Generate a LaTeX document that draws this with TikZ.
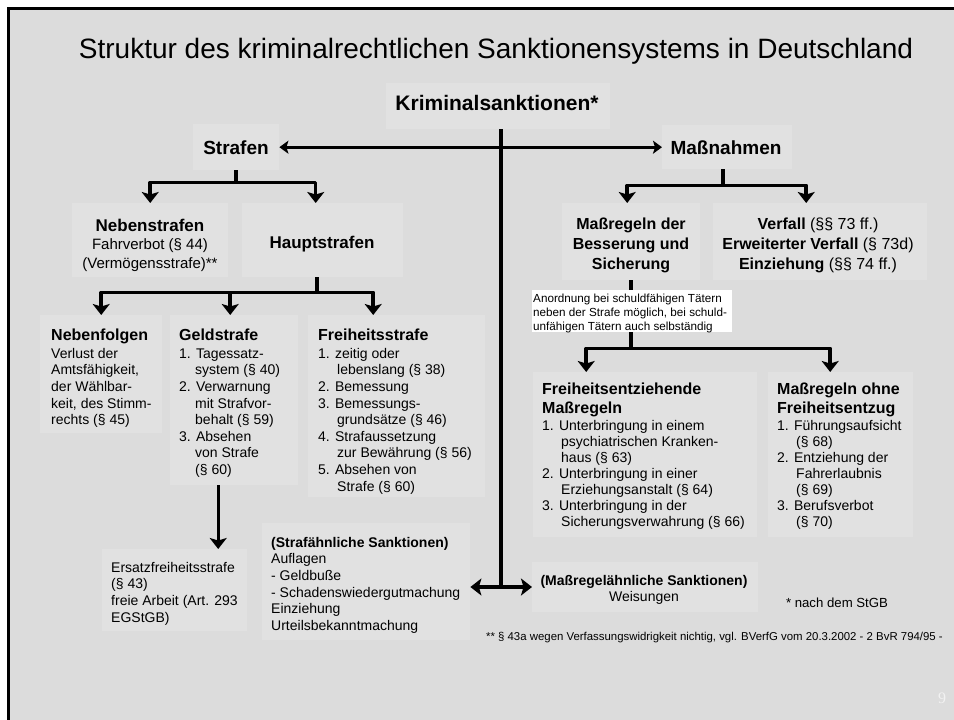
\documentclass[tikz,border=0pt]{standalone}
\usepackage{fontspec}
\setmainfont{Liberation Sans}
\newfontfamily\serifnum{Liberation Serif}
\usetikzlibrary{arrows.meta}
\definecolor{bgc}{RGB}{220,220,220}
\definecolor{boxc}{RGB}{225,225,225}
\definecolor{pagenum}{RGB}{242,242,242}
\newcommand\fs[2]{\fontsize{#1}{#2}\selectfont}
\newcommand\ind[1]{\hspace*{#1pt}}
\newcommand\fl{\rule{0pt}{20pt}}
\tikzset{
  bx/.style={fill=boxc, draw=none, inner sep=0, anchor=north west},
  txt/.style={inner sep=0, align=left, anchor=north west},
  ctxt/.style={inner sep=0, align=center, anchor=north},
  stxt/.style={inner sep=0, anchor=base},
  conn/.style={line width=3.5pt, line join=round},
  thinconn/.style={line width=3.2pt, line join=round},
  tip/.style={-{Stealth[length=11pt,width=17pt,inset=2.5pt]}},
  tipb/.style={{Stealth[length=9pt,width=13pt,inset=2pt]}-{Stealth[length=9pt,width=13pt,inset=2pt]}},
}
\begin{document}
\begin{tikzpicture}[x=1pt,y=-1pt]
\useasboundingbox (0,0) rectangle (954,720);
\clip (0,0) rectangle (954,720);
\fill[white] (0,0) rectangle (954,720);
\filldraw[fill=bgc, draw=black, line width=3pt] (8.5,8.5) rectangle (990,760);

% boxes
\node[bx, minimum width=224pt, minimum height=46pt] (krimbox) at (386,83) {};
\node[bx, minimum width=86pt, minimum height=46pt] (sbox) at (193,124) {};
\node[bx, minimum width=130pt, minimum height=44pt] (mbox) at (662,125) {};
\node[bx, minimum width=156pt, minimum height=74pt] (nsbox) at (72,203) {};
\node[bx, minimum width=161pt, minimum height=74pt] (hsbox) at (242,203) {};
\node[bx, minimum width=122pt, minimum height=118pt] (nfbox) at (40,315) {};
\node[bx, minimum width=128pt, minimum height=170pt] (gsbox) at (170,315) {};
\node[bx, minimum width=177pt, minimum height=182pt] (fsbox) at (308,315) {};
\node[bx, minimum width=138pt, minimum height=77pt] (mrbox) at (562,203) {};
\node[bx, minimum width=214pt, minimum height=77pt] (vfbox) at (713,203) {};
\node[bx, fill=white, minimum width=200pt, minimum height=42pt] (anbox) at (532,290) {};
\node[bx, minimum width=224pt, minimum height=165pt] (fembox) at (533,372) {};
\node[bx, minimum width=145pt, minimum height=165pt] (mobox) at (768,372) {};
\node[bx, minimum width=145pt, minimum height=82pt] (ersbox) at (102,549) {};
\node[bx, minimum width=208pt, minimum height=117pt] (sabox) at (262,523) {};
\node[bx, minimum width=226pt, minimum height=50pt] (mabox) at (532,562) {};

% texts
\node[stxt] (title) at (496,58) {\fs{28}{30}Struktur des kriminalrechtlichen Sanktionensystems in Deutschland};
\node[stxt] (krim) at (497,110.5) {\fs{21}{24}\bfseries Kriminalsanktionen*};
\node[stxt] (strafen) at (236,154) {\fs{19}{22}\bfseries Strafen};
\node[stxt] (massn) at (726,154) {\fs{19}{22}\bfseries Maßnahmen};
\node[ctxt, font=\fs{15}{18.5}] (nebenstr) at (150,211) {{\bfseries\fs{17}{18.5}\fl Nebenstrafen}\\Fahrverbot (§ 44)\\(Vermögensstrafe)**};
\node[stxt] (hauptstr) at (322,248) {\fs{17}{20}\bfseries Hauptstrafen};
\node[ctxt, font=\fs{16}{20}\bfseries] (massregeln) at (631,209) {\fl Maßregeln der\\Besserung und\\Sicherung};
\node[ctxt, font=\fs{16}{20}] (verfall) at (818,209) {\fl\textbf{Verfall} (§§ 73 ff.)\\\textbf{Erweiterter Verfall} (§ 73d)\\\textbf{Einziehung} (§§ 74 ff.)};
\node[txt, font=\fs{14}{16.6}] (nebenf) at (51,320) {{\bfseries\fs{16}{18}\fl Nebenfolgen}\\[1.4pt]Verlust der\\Amtsfähigkeit,\\der Wählbar-\\keit, des Stimm-\\rechts (§ 45)};
\node[txt, font=\fs{14}{16.6}] (geld) at (179,320) {{\bfseries\fs{16}{18}\fl Geldstrafe}\\[1.4pt]1. Tagessatz-\\\ind{16}system (§ 40)\\2. Verwarnung\\\ind{16}mit Strafvor-\\\ind{16}behalt (§ 59)\\3. Absehen\\\ind{16}von Strafe\\\ind{16}(§ 60)};
\node[txt, font=\fs{14}{16.6}] (freiheit) at (318,320) {{\bfseries\fs{16}{18}\fl Freiheitsstrafe}\\[1.4pt]1. zeitig oder\\\ind{19}lebenslang (§ 38)\\2. Bemessung\\3. Bemessungs-\\\ind{19}grundsätze (§ 46)\\4. Strafaussetzung\\\ind{19}zur Bewährung (§ 56)\\5. Absehen von\\\ind{19}Strafe (§ 60)};
\node[txt, font=\fs{11.7}{14.3}] (anord) at (533,282) {\fl Anordnung bei schuldfähigen Tätern\\neben der Strafe möglich, bei schuld-\\unfähigen Tätern auch selbständig};
\node[txt, font=\fs{14}{16}] (fem) at (542,374.5) {{\bfseries\fs{16}{19}\fl Freiheitsentziehende}\\[3pt]{\bfseries\fs{16}{19}Maßregeln}\\[1pt]1. Unterbringung in einem\\\ind{19}psychiatrischen Kranken-\\\ind{19}haus (§ 63)\\2. Unterbringung in einer\\\ind{19}Erziehungsanstalt (§ 64)\\3. Unterbringung in der\\\ind{19}Sicherungsverwahrung (§ 66)};
\node[txt, font=\fs{14}{16}] (ohne) at (777,374.5) {{\bfseries\fs{16}{19}\fl Maßregeln ohne}\\[3pt]{\bfseries\fs{16}{19}Freiheitsentzug}\\[1pt]1. Führungsaufsicht\\\ind{19}(§ 68)\\2. Entziehung der\\\ind{19}Fahrerlaubnis\\\ind{19}(§ 69)\\3. Berufsverbot\\\ind{19}(§ 70)};
\node[txt, font=\fs{14}{16.7}] (ersatz) at (111,552) {\fl Ersatzfreiheitsstrafe\\(§ 43)\\freie Arbeit (Art. 293\\EGStGB)};
\node[txt, font=\fs{14}{16.6}] (straehn) at (271,527) {{\bfseries\fl (Strafähnliche Sanktionen)}\\Auflagen\\- Geldbuße\\- Schadenswiedergutmachung\\Einziehung\\Urteilsbekanntmachung};
\node[ctxt, font=\fs{14}{16}] (massaehn) at (644,565) {\fl\textbf{(Maßregelähnliche Sanktionen)}\\Weisungen};
\node[stxt] (stern) at (837,607.7) {\fs{13.2}{15}* nach dem StGB};
\node[inner sep=0, anchor=base east] (fussnote) at (943,640) {\fs{11.4}{13}** § 43a wegen Verfassungswidrigkeit nichtig, vgl. BVerfG vom 20.3.2002 - 2 BvR 794/95 -};
\node[stxt, text=pagenum] (seite) at (942,703) {\serifnum\fs{16}{18}9};

% connectors
\coordinate (tee) at (501,587);
\draw[conn] (krimbox.south -| tee) -- (tee);
\draw[conn, tip] (tee) -- (tee -| sabox.east);
\draw[conn, tip] (tee) -- (tee -| mabox.west);
\draw[thinconn, tipb] (sbox.east) -- (sbox.east -| mbox.west);

\draw[conn] (sbox.south) -- ++(0,12) coordinate (sj);
\draw[conn, tip] (sj) -| (nsbox.north);
\draw[conn, tip] (sj) -| ([xshift=-7pt]hsbox.north);

\draw[conn] ([xshift=-5.5pt]hsbox.south) -- ++(0,15) coordinate (hj);
\draw[conn, tip] (hj) -| (nfbox.north);
\draw[conn, tip] (hj) -| ([xshift=-4pt]gsbox.north);
\draw[conn, tip] (hj) -| ([xshift=-23.5pt]fsbox.north);

\draw[thinconn, tip] ([xshift=-16pt]gsbox.south) -- ([xshift=-16pt]gsbox.south |- ersbox.north);

\draw[conn] ([xshift=-4pt]mbox.south) -- ++(0,16) coordinate (mj);
\draw[conn, tip] (mj) -| ([xshift=-4pt]mrbox.north);
\draw[conn, tip] (mj) -| ([xshift=-14pt]vfbox.north);

\draw[conn] (mrbox.south) -- (mrbox.south |- anbox.north);
\draw[conn] (anbox.south -| mrbox.south) -- ++(0,16) coordinate (aj);
\draw[conn, tip] (aj) -| ([xshift=-59pt]fembox.north);
\draw[conn, tip] (aj) -| ([xshift=-10.5pt]mobox.north);
\end{tikzpicture}
\end{document}
